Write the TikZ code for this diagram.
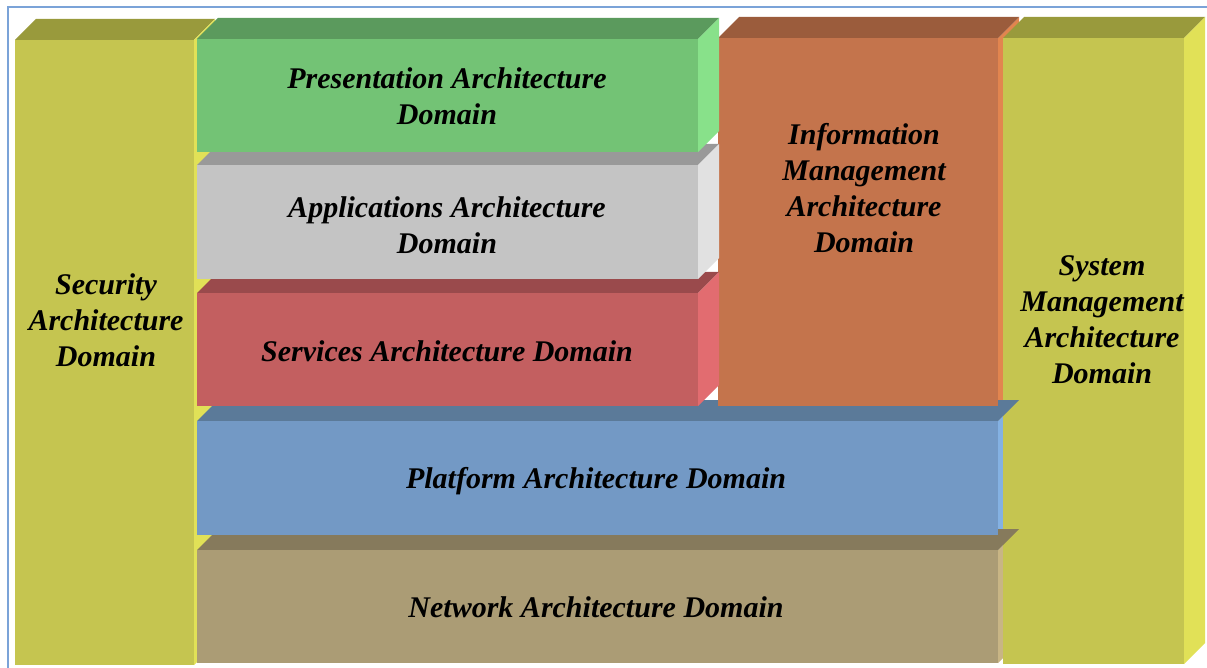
\documentclass[tikz,border=0pt]{standalone}
\usepackage{fontspec}
\setmainfont{Liberation Serif}
\definecolor{yelF}{HTML}{C5C550}\definecolor{yelT}{HTML}{999A3C}\definecolor{yelS}{HTML}{E1E157}
\definecolor{grnF}{HTML}{73C375}\definecolor{grnT}{HTML}{5B9A5D}\definecolor{grnS}{HTML}{88E18A}
\definecolor{gryF}{HTML}{C4C4C4}\definecolor{gryT}{HTML}{999999}\definecolor{gryS}{HTML}{E1E1E1}
\definecolor{redF}{HTML}{C35F60}\definecolor{redT}{HTML}{9A4A4C}\definecolor{redS}{HTML}{E26C70}
\definecolor{orgF}{HTML}{C4744C}\definecolor{orgT}{HTML}{9B5C3C}\definecolor{orgS}{HTML}{E2854F}
\definecolor{bluF}{HTML}{7399C5}\definecolor{bluT}{HTML}{5B7A99}\definecolor{bluS}{HTML}{84B1E2}
\definecolor{tanF}{HTML}{AB9C75}\definecolor{tanT}{HTML}{867A5C}\definecolor{tanS}{HTML}{C8B585}
\definecolor{frameblue}{HTML}{7BA3D8}
% x1, x2, y1, colour
\newcommand\archtop[4]{\fill[#4] (#1,#3) -- (#2,#3) -- (#2+21,#3-21) -- (#1+21,#3-21) -- cycle;}
% x2, y1, y2, colour
\newcommand\archside[4]{\fill[#4] (#1,#2) -- (#1+21,#2-21) -- (#1+21,#3-21) -- (#1,#3) -- cycle;}
% x1, y1, x2, y2, colour
\newcommand\archfront[5]{\fill[#5] (#1,#2) rectangle (#3,#4);}
\tikzset{
  lbl/.style={font=\fontsize{30}{36}\selectfont\bfseries\itshape, align=center, text=black, inner sep=0pt},
  framestyle/.style={draw=frameblue, line width=1.5pt}
}
\begin{document}
\begin{tikzpicture}[x=1pt,y=-1pt]
\useasboundingbox (0,0) rectangle (1207,668);
\fill[white] (0,0) rectangle (1207,668);
\draw[framestyle] (8,668) -- (8,7) -- (1207,7);
% Security
\archtop{15}{194}{40}{yelT}
\archside{194}{40}{665}{yelS}
\archfront{15}{40}{194}{665}{yelF}
% side faces hidden behind System
\archside{998}{38}{406}{orgS}
\archside{998}{421}{535}{bluS}
\archside{998}{550}{663}{tanS}
% System
\archtop{1003}{1184}{38}{yelT}
\archside{1184}{38}{664}{yelS}
\archfront{1003}{38}{1184}{664}{yelF}
% Network
\archtop{197}{998}{550}{tanT}
\archfront{197}{550}{998}{663}{tanF}
% Platform
\archtop{197}{998}{421}{bluT}
\archfront{197}{421}{998}{535}{bluF}
% Information
\archtop{718}{998}{38}{orgT}
\archfront{718}{38}{998}{406}{orgF}
% Services
\archtop{197}{698}{293}{redT}
\archside{698}{293}{406}{redS}
\archfront{197}{293}{698}{406}{redF}
% Applications
\archtop{197}{698}{165}{gryT}
\archside{698}{165}{279}{gryS}
\archfront{197}{165}{698}{279}{gryF}
% Presentation
\archtop{197}{698}{39}{grnT}
\archside{698}{39}{152}{grnS}
\archfront{197}{39}{698}{152}{grnF}
% Labels
\node[lbl] (sec) at (106,320) {Security\\Architecture\\Domain};
\node[lbl] (pres) at (447,96) {Presentation Architecture\\Domain};
\node[lbl] (app) at (447,225) {Applications Architecture\\Domain};
\node[lbl] (serv) at (447,351) {Services Architecture Domain};
\node[lbl] (info) at (864,188) {Information\\Management\\Architecture\\Domain};
\node[lbl] (sys) at (1102,320) {System\\Management\\Architecture\\Domain};
\node[lbl] (plat) at (596,481) {Platform Architecture Domain};
\node[lbl] (net) at (596,607) {Network Architecture Domain};
\end{tikzpicture}
\end{document}
